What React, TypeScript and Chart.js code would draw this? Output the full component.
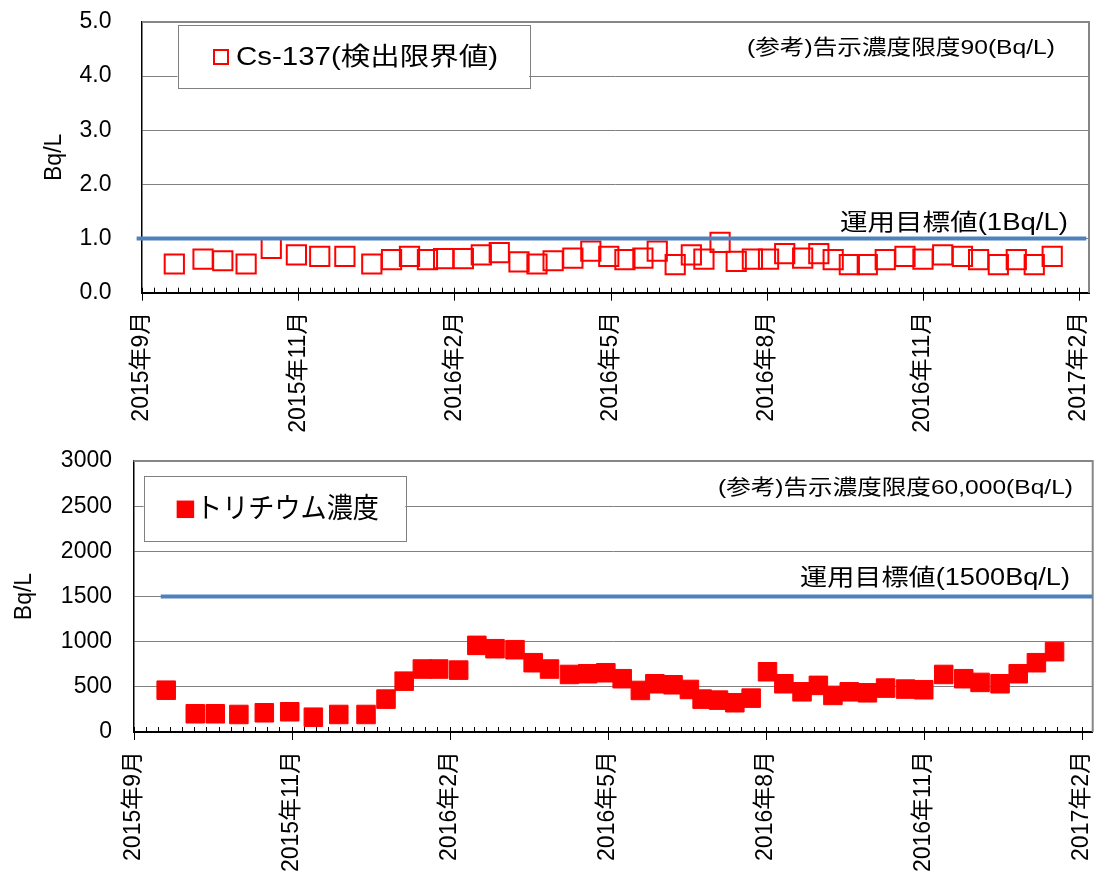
import React, { useEffect, useRef } from 'react';
import { Chart, registerables } from 'chart.js';

Chart.register(...registerables);

// ---------------- data ----------------
const sampleDates: string[] = [
  '2015-09-19', '2015-10-05', '2015-10-16', '2015-10-29', '2015-11-12', '2015-11-26',
  '2015-12-09', '2015-12-23', '2016-01-07', '2016-01-18', '2016-01-28', '2016-02-07',
  '2016-02-16', '2016-02-27', '2016-03-08', '2016-03-18', '2016-03-29', '2016-04-08',
  '2016-04-17', '2016-04-28', '2016-05-08', '2016-05-18', '2016-05-27', '2016-06-06',
  '2016-06-14', '2016-06-24', '2016-07-03', '2016-07-10', '2016-07-19', '2016-07-28',
  '2016-08-06', '2016-08-15', '2016-08-24', '2016-09-03', '2016-09-12', '2016-09-20',
  '2016-09-29', '2016-10-09', '2016-10-19', '2016-10-30', '2016-11-09', '2016-11-20',
  '2016-12-01', '2016-12-10', '2016-12-21', '2016-12-31', '2017-01-10', '2017-01-20',
];

const cs137Values: number[] = [
  0.53, 0.62, 0.59, 0.53, 0.82, 0.70, 0.67, 0.67, 0.53, 0.61, 0.67, 0.61,
  0.63, 0.63, 0.70, 0.74, 0.57, 0.53, 0.59, 0.64, 0.77, 0.67, 0.61, 0.64,
  0.77, 0.52, 0.70, 0.62, 0.93, 0.58, 0.62, 0.62, 0.72, 0.64, 0.72, 0.61,
  0.52, 0.52, 0.61, 0.67, 0.62, 0.70, 0.67, 0.61, 0.52, 0.61, 0.52, 0.67,
];

const tritiumValues: number[] = [
  463, 202, 202, 194, 213, 224, 164, 194, 194, 364, 563, 697,
  697, 685, 959, 922, 911, 767, 697, 637, 645, 656, 590, 460,
  534, 523, 471, 364, 353, 324, 375, 667, 534, 445, 516, 405,
  445, 434, 486, 475, 468, 637, 590, 549, 534, 645, 767, 889,
];

const axisTickDates: string[] = [
  '2015-09-01', '2015-11-27', '2016-02-22', '2016-05-19', '2016-08-14', '2016-11-09', '2017-02-04',
];
const axisTickLabels: string[] = [
  '2015年9月', '2015年11月', '2016年2月', '2016年5月', '2016年8月', '2016年11月', '2017年2月',
];
const minorTicksPerInterval = 13;

const cs137Target = 1;
const cs137TargetSpan: string[] = ['2015-08-29', '2017-02-08'];
const tritiumTarget = 1500;
const tritiumTargetSpan: string[] = ['2015-09-16', '2017-02-10'];

const cs137YTicks: number[] = [0, 1, 2, 3, 4, 5];
const tritiumYTicks: number[] = [0, 500, 1000, 1500, 2000, 2500, 3000];

// ---------------- helpers ----------------
const BASE = Date.UTC(2015, 8, 1);
const dayOf = (s: string) => {
  const [y, m, d] = s.split('-').map(Number);
  return (Date.UTC(y, m - 1, d) - BASE) / 86400000;
};

const FONT = "'Liberation Sans', 'Noto Sans CJK JP', sans-serif";
const W = 1095;

type Note = { text: string; x: number; y: number; w: number; size: number };

interface PanelSpec {
  values: number[];
  yTicks: number[];
  decimals: number;
  targetValue: number;
  targetSpan: string[];
  filled: boolean;
  pointR: number;
  pointBorder: number;
  height: number;
  area: { left: number; right: number; top: number; bottom: number };
  xMax: number;
  yTickPad: number;
  yTitlePad: number;
  legendBox: [number, number, number, number];
  legendMarker: { cx: number; cy: number; size: number };
  legendText: Note;
  notes: Note[];
}

function drawFitText(ctx: CanvasRenderingContext2D, n: Note, alignRight: boolean) {
  ctx.save();
  ctx.font = `${n.size}px ${FONT}`;
  const mw = ctx.measureText(n.text).width;
  const sx = n.w / mw;
  ctx.translate(alignRight ? n.x - n.w : n.x, n.y);
  ctx.scale(sx, 1);
  ctx.textAlign = 'left';
  ctx.textBaseline = 'middle';
  ctx.fillStyle = '#000';
  ctx.fillText(n.text, 0, 0);
  ctx.restore();
}

function Panel({ spec }: { spec: PanelSpec }) {
  const ref = useRef<HTMLCanvasElement>(null);
  useEffect(() => {
    const canvas = ref.current!;
    const a = spec.area;
    const xs = sampleDates.map(dayOf);
    const majors = axisTickDates.map(dayOf);

    const decor = {
      id: 'decor',
      beforeDatasetsDraw(chart: any) {
        const { ctx, chartArea: ca, scales } = chart;
        const sx = scales.x;
        ctx.save();
        ctx.strokeStyle = '#868686';
        ctx.lineWidth = 2;
        ctx.beginPath();
        ctx.moveTo(ca.left, ca.top);
        ctx.lineTo(ca.right, ca.top);
        ctx.lineTo(ca.right, ca.bottom);
        ctx.stroke();
        ctx.strokeStyle = '#000';
        ctx.lineWidth = 1;
        for (let i = 0; i < majors.length; i++) {
          const m = majors[i];
          const px = Math.round(sx.getPixelForValue(m)) + 0.5;
          ctx.beginPath();
          ctx.moveTo(px, ca.bottom - 5);
          ctx.lineTo(px, ca.bottom + 8);
          ctx.stroke();
          if (i < majors.length - 1) {
            const step = (majors[i + 1] - m) / minorTicksPerInterval;
            for (let k = 1; k < minorTicksPerInterval; k++) {
              const p = Math.round(sx.getPixelForValue(m + k * step)) + 0.5;
              ctx.beginPath();
              ctx.moveTo(p, ca.bottom - 5);
              ctx.lineTo(p, ca.bottom);
              ctx.stroke();
            }
          }
        }
        ctx.restore();
      },
      afterDraw(chart: any) {
        const ctx: CanvasRenderingContext2D = chart.ctx;
        const [x1, y1, x2, y2] = spec.legendBox;
        ctx.save();
        ctx.fillStyle = '#fff';
        ctx.fillRect(x1, y1, x2 - x1, y2 - y1);
        ctx.strokeStyle = '#808080';
        ctx.lineWidth = 1;
        ctx.strokeRect(Math.round(x1) + 0.5, Math.round(y1) + 0.5, Math.round(x2 - x1), Math.round(y2 - y1));
        const mk = spec.legendMarker;
        if (spec.filled) {
          ctx.fillStyle = '#FF0000';
          ctx.fillRect(mk.cx - mk.size / 2, mk.cy - mk.size / 2, mk.size, mk.size);
        } else {
          ctx.strokeStyle = '#FF0000';
          ctx.lineWidth = 2;
          ctx.strokeRect(mk.cx - mk.size / 2 + 1, mk.cy - mk.size / 2 + 1, mk.size - 2, mk.size - 2);
        }
        ctx.restore();
        drawFitText(ctx, spec.legendText, false);
        spec.notes.forEach((n) => drawFitText(ctx, n, true));
      },
    };

    const chart = new Chart(canvas, {
      type: 'scatter',
      data: {
        datasets: [
          {
            type: 'line',
            data: spec.targetSpan.map((d) => ({ x: dayOf(d), y: spec.targetValue })),
            borderColor: '#4F81BD',
            borderWidth: 4,
            pointRadius: 0,
            showLine: true,
            clip: false,
          } as any,
          {
            type: 'scatter',
            data: xs.map((x, i) => ({ x, y: spec.values[i] })),
            pointStyle: 'rect',
            pointRadius: spec.pointR,
            pointHoverRadius: spec.pointR,
            pointBorderColor: '#FF0000',
            pointBackgroundColor: spec.filled ? '#FF0000' : 'rgba(0,0,0,0)',
            pointBorderWidth: spec.pointBorder,
          } as any,
        ],
      },
      options: {
        responsive: false,
        animation: false,
        events: [],
        layout: { autoPadding: false, padding: { top: a.top, right: W - a.right, left: 0, bottom: 0 } },
        plugins: { legend: { display: false }, tooltip: { enabled: false } },
        scales: {
          x: {
            type: 'linear',
            min: 0,
            max: spec.xMax,
            afterBuildTicks: (s: any) => {
              s.ticks = majors.map((v) => ({ value: v }));
            },
            afterFit: (s: any) => {
              s.height = spec.height - a.bottom;
              s.paddingLeft = 0;
              s.paddingRight = 0;
            },
            ticks: {
              autoSkip: false,
              minRotation: 90,
              maxRotation: 90,
              padding: 19,
              color: '#000',
              font: { size: 23, family: FONT },
              callback: (_v: any, i: number) => axisTickLabels[i],
            },
            grid: { display: true, drawOnChartArea: false, drawTicks: false },
            border: { display: true, color: '#000', width: 2 },
          },
          y: {
            type: 'linear',
            min: spec.yTicks[0],
            max: spec.yTicks[spec.yTicks.length - 1],
            afterBuildTicks: (s: any) => {
              s.ticks = spec.yTicks.map((v) => ({ value: v }));
            },
            afterFit: (s: any) => {
              s.width = a.left;
              s.paddingTop = 0;
              s.paddingBottom = 0;
            },
            ticks: {
              padding: spec.yTickPad,
              color: '#000',
              font: { size: 23, family: FONT },
              callback: (v: any) => Number(v).toFixed(spec.decimals),
            },
            grid: { color: '#808080', lineWidth: 1, drawTicks: false },
            border: { display: true, color: '#000', width: 1.5 },
            title: {
              display: true,
              text: 'Bq/L',
              color: '#000',
              font: { size: 23, family: FONT },
              padding: { top: spec.yTitlePad, bottom: 0 },
            },
          },
        },
      } as any,
      plugins: [decor],
    });
    return () => chart.destroy();
  }, [spec]);
  return (
    <canvas
      ref={ref}
      width={W}
      height={spec.height}
      style={{ display: 'block', width: W, height: spec.height }}
    />
  );
}

const topSpec: PanelSpec = {
  values: cs137Values,
  yTicks: cs137YTicks,
  decimals: 1,
  targetValue: cs137Target,
  targetSpan: cs137TargetSpan,
  filled: false,
  pointR: 13.6,
  pointBorder: 2,
  height: 440,
  area: { left: 142, right: 1089, top: 22, bottom: 292.7 },
  xMax: 527.5,
  yTickPad: 30.5,
  yTitlePad: 41,
  legendBox: [177.5, 25, 529, 87.5],
  legendMarker: { cx: 221, cy: 57, size: 16 },
  legendText: { text: 'Cs-137(検出限界値)', x: 236, y: 58, w: 262, size: 25 },
  notes: [
    { text: '(参考)告示濃度限度90(Bq/L)', x: 1055, y: 48.5, w: 308, size: 21 },
    { text: '運用目標値(1Bq/L)', x: 1068, y: 224, w: 228, size: 23 },
  ],
};

const bottomSpec: PanelSpec = {
  values: tritiumValues,
  yTicks: tritiumYTicks,
  decimals: 0,
  targetValue: tritiumTarget,
  targetSpan: tritiumTargetSpan,
  filled: true,
  pointR: 13.1,
  pointBorder: 1,
  height: 438,
  area: { left: 133.5, right: 1092.7, top: 21, bottom: 292 },
  xMax: 528,
  yTickPad: 21.5,
  yTitlePad: 11,
  legendBox: [143.6, 36.4, 405.4, 101.8],
  legendMarker: { cx: 185.4, cy: 69.3, size: 17.5 },
  legendText: { text: 'トリチウム濃度', x: 196, y: 70.5, w: 183, size: 28 },
  notes: [
    { text: '(参考)告示濃度限度60,000(Bq/L)', x: 1073, y: 48.3, w: 355, size: 21 },
    { text: '運用目標値(1500Bq/L)', x: 1070, y: 138.8, w: 270, size: 23 },
  ],
};

export default function App() {
  return (
    <div
      style={{
        position: 'absolute',
        left: 0,
        top: 0,
        width: W,
        height: 878,
        background: '#fff',
        overflow: 'hidden',
      }}
    >
      <div style={{ position: 'absolute', left: 0, top: 0 }}>
        <Panel spec={topSpec} />
      </div>
      <div style={{ position: 'absolute', left: 0, top: 440 }}>
        <Panel spec={bottomSpec} />
      </div>
    </div>
  );
}
